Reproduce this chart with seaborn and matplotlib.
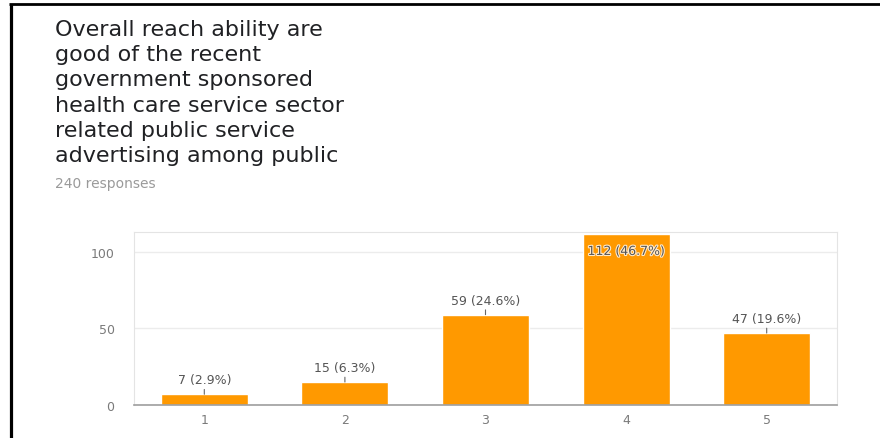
import matplotlib
matplotlib.use("Agg")
import matplotlib.pyplot as plt
import matplotlib.patheffects as pe
from matplotlib.lines import Line2D
import seaborn as sns
import pandas as pd

# Survey question and response summary
title_lines = [
    "Overall reach ability are",
    "good of the recent",
    "government sponsored",
    "health care service sector",
    "related public service",
    "advertising among public",
]
subtitle = "240 responses"

# Rating scale results
ratings = ["1", "2", "3", "4", "5"]
counts = [7, 15, 59, 112, 47]
percents = [2.9, 6.3, 24.6, 46.7, 19.6]
yticks = [0, 50, 100]

sns.set_theme(style="white")
plt.rcParams["font.family"] = ["DejaVu Sans"]

W, H = 880, 439
fig = plt.figure(figsize=(W / 100, H / 100), dpi=100)
fig.patch.set_facecolor("white")

# Frame lines on the left and top edges
fig.add_artist(Line2D([10.5 / W, 10.5 / W], [0, 1 - 5 / H], color="black", lw=2.3,
                      transform=fig.transFigure, solid_capstyle="butt"))
fig.add_artist(Line2D([9 / W, 1], [1 - 5 / H, 1 - 5 / H], color="black", lw=2.0,
                      transform=fig.transFigure, solid_capstyle="butt"))

# Title block
for i, line in enumerate(title_lines):
    fig.text(55 / W, 1 - (36 + 25.2 * i) / H, line, fontsize=16, color="#202124",
             va="baseline", ha="left")
fig.text(55 / W, 1 - 188 / H, subtitle, fontsize=10, color="#9a9a9a",
         va="baseline", ha="left")

# Bar chart
left, right, top, bottom = 134, 837, 233, 406
ax = fig.add_axes([left / W, 1 - bottom / H, (right - left) / W, (bottom - top) / H])
df = pd.DataFrame({"rating": ratings, "count": counts})
sns.barplot(data=df, x="rating", y="count", color="#ff9900", saturation=1,
            width=0.62, ax=ax, zorder=2)

ymax = 113
ax.set_ylim(0, ymax)
ax.set_xlim(-0.5, len(ratings) - 0.5)
ax.set_yticks(yticks)
ax.set_xlabel("")
ax.set_ylabel("")
ax.set_axisbelow(True)
ax.yaxis.grid(True, color="#ececec", lw=1.0)
ax.xaxis.grid(False)
ax.tick_params(axis="both", length=0, labelsize=9, labelcolor="#7a7a7a")
ax.tick_params(axis="y", pad=14)
ax.tick_params(axis="x", pad=6)

for side in ("left", "right", "top"):
    ax.spines[side].set_color("#e4e4e4")
    ax.spines[side].set_linewidth(0.8)
ax.spines["bottom"].set_color("#9e9e9e")
ax.spines["bottom"].set_linewidth(1.2)

# Value labels with short leader lines
px_per_unit = (bottom - top) / ymax
for i, (c, p) in enumerate(zip(counts, percents)):
    label = f"{c} ({p}%)"
    if (c * px_per_unit + 20) > (bottom - top):
        # Tall bar reaches the top: label sits inside the bar
        ax.annotate(label, xy=(i, ymax), xytext=(0, -14), textcoords="offset points",
                    ha="center", va="center", fontsize=9, color="#555555", zorder=4,
                    path_effects=[pe.withStroke(linewidth=1.6, foreground="#ffe9c8")])
    else:
        ax.annotate(label, xy=(i, c), xytext=(0, 10.5), textcoords="offset points",
                    ha="center", va="center", fontsize=9, color="#555555", zorder=4,
                    arrowprops=dict(arrowstyle="-", color="#666666", lw=0.8,
                                    shrinkA=0, shrinkB=0))

fig.savefig("out.png", dpi=100, facecolor="white")
